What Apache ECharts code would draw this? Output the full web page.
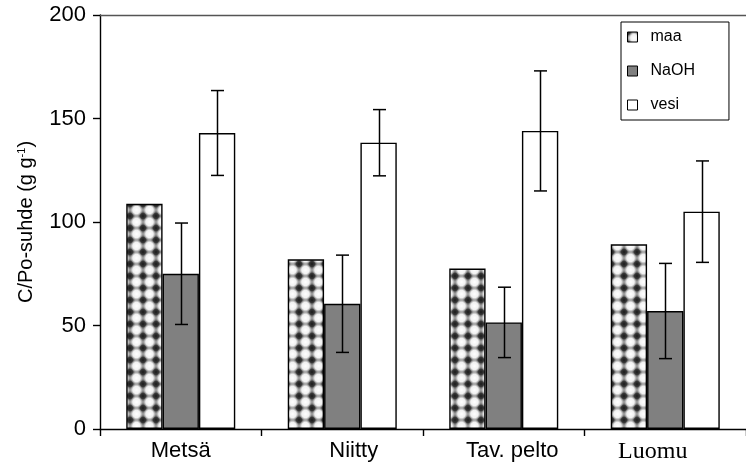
<!DOCTYPE html>
<html>
<head>
<meta charset="utf-8">
<script src="https://cdn.jsdelivr.net/npm/echarts@6/dist/echarts.min.js"></script>
<style>
  html, body { margin: 0; padding: 0; background: #fff; }
  #chart { width: 746px; height: 468px; }
</style>
</head>
<body>
<div id="chart"></div>
<script>
// Categories and series values (C/Po ratio, g g-1)
const categories = ['Metsä', 'Niitty', 'Tav. pelto', 'Luomu'];
const seriesNames = ['maa', 'NaOH', 'vesi'];
const maaValues  = [108.8, 82, 77.5, 89.2];
const naohValues = [75, 60.5, 51.5, 57];
const vesiValues = [143, 138.3, 144, 105];
// Error bar half-lengths (maa has none)
const naohErrors = [24.5, 23.5, 17, 23];
const vesiErrors = [20.5, 16, 29, 24.5];
const yTicks = [0, 50, 100, 150, 200];

// Blurred dot texture for the "maa" bars
function makeDotPattern() {
  const w = 13, h = 12;
  const c = document.createElement('canvas');
  c.width = w; c.height = h;
  const ctx = c.getContext('2d');
  ctx.fillStyle = '#9a9a9a';
  ctx.fillRect(0, 0, w, h);
  const corners = [[0, 0], [w, 0], [0, h], [w, h]];
  corners.forEach(([x, y]) => {
    const g = ctx.createRadialGradient(x, y, 0, x, y, 6);
    g.addColorStop(0, 'rgba(25,25,25,1)');
    g.addColorStop(0.45, 'rgba(45,45,45,0.9)');
    g.addColorStop(1, 'rgba(150,150,150,0)');
    ctx.fillStyle = g;
    ctx.fillRect(0, 0, w, h);
  });
  const gw = ctx.createRadialGradient(w / 2, h / 2, 0, w / 2, h / 2, 6.2);
  gw.addColorStop(0, 'rgba(255,255,255,1)');
  gw.addColorStop(0.6, 'rgba(250,250,250,0.9)');
  gw.addColorStop(1, 'rgba(210,210,210,0)');
  ctx.fillStyle = gw;
  ctx.fillRect(0, 0, w, h);
  return c;
}
const dotPattern = { image: makeDotPattern(), repeat: 'repeat' };

const barBorder = { borderColor: '#000', borderWidth: 1.4 };
const catGapRatio = 0.325;

// Error bars drawn on top of the NaOH (slot 1) and vesi (slot 2) bars
function errorSeries(values, errors, slot) {
  return {
    type: 'custom',
    z: 10,
    silent: true,
    data: values.map((v, i) => [i, v - errors[i], v + errors[i]]),
    renderItem: function (params, api) {
      const band = api.size([1, 0])[0];
      const barW = band * (1 - catGapRatio) / 3;
      const low = api.coord([api.value(0), api.value(1)]);
      const high = api.coord([api.value(0), api.value(2)]);
      const x = Math.round(low[0] + (slot - 1) * barW) + 0.5;
      const half = 6.5;
      const style = { stroke: '#000', lineWidth: 1.5 };
      return {
        type: 'group',
        children: [
          { type: 'line', shape: { x1: x, y1: high[1], x2: x, y2: low[1] }, style: style },
          { type: 'line', shape: { x1: x - half, y1: high[1], x2: x + half, y2: high[1] }, style: style },
          { type: 'line', shape: { x1: x - half, y1: low[1], x2: x + half, y2: low[1] }, style: style }
        ]
      };
    }
  };
}

const chart = echarts.init(document.getElementById('chart'), null, { renderer: 'canvas' });
chart.setOption({
  animation: false,
  backgroundColor: '#fff',
  textStyle: { fontFamily: 'Liberation Sans', color: '#000' },
  grid: { left: 100, right: -6, top: 15, bottom: 39, containLabel: false },
  legend: {
    orient: 'vertical',
    left: 621,
    top: 22,
    data: seriesNames.map(n => ({ name: n, icon: 'rect', itemStyle: { borderWidth: 1 } })),
    itemWidth: 10,
    itemHeight: 10,
    itemGap: 18,
    padding: [7, 34, 7, 6],
    borderColor: '#000',
    borderWidth: 1,
    backgroundColor: '#fff',
    textStyle: { fontSize: 16, color: '#000', fontFamily: 'Liberation Sans', padding: [0, 0, 0, 8] },
    selectedMode: false
  },
  xAxis: [
    {
      type: 'category',
      data: categories,
      boundaryGap: true,
      axisLine: { lineStyle: { color: '#000', width: 1.4 } },
      axisTick: { show: true, length: 7, inside: false, lineStyle: { color: '#000', width: 1.4 } },
      axisLabel: {
        margin: 11,
        fontSize: 22,
        color: '#000',
        fontFamily: 'Liberation Sans',
        formatter: function (v) {
          if (v === 'Niitty') return '{n|' + v + '}';
          if (v === 'Tav. pelto') return '{t|' + v + '}';
          if (v === 'Luomu') return '{l|' + v + '}';
          return v;
        },
        rich: {
          n: { fontSize: 22, fontFamily: 'Liberation Sans', padding: [0, 0, 0, 23] },
          t: { fontSize: 22, fontFamily: 'Liberation Sans', padding: [0, 0, 0, 17] },
          l: { fontSize: 24, fontFamily: 'Liberation Serif', padding: [0, 25, 0, 0] }
        }
      }
    },
    {
      type: 'category',
      position: 'top',
      data: categories,
      axisLine: { show: true, lineStyle: { color: '#555', width: 1.4 } },
      axisTick: { show: false },
      axisLabel: { show: false }
    }
  ],
  yAxis: {
    type: 'value',
    min: yTicks[0],
    max: yTicks[yTicks.length - 1],
    interval: 50,
    name: '{t|C/Po-suhde (g g}{s|-1}{t|)}',
    nameLocation: 'middle',
    nameGap: 64,
    nameRotate: 90,
    nameTextStyle: {
      rich: {
        t: { fontSize: 20, fontFamily: 'Liberation Sans', color: '#000' },
        s: { fontSize: 11, fontFamily: 'Liberation Sans', color: '#000', verticalAlign: 'top', padding: [0, 0, 9, 0] }
      }
    },
    splitLine: { show: false },
    axisLine: { show: true, lineStyle: { color: '#000', width: 1.4 } },
    axisTick: { show: true, length: 7, inside: false, lineStyle: { color: '#000', width: 1.4 } },
    axisLabel: { fontSize: 22, color: '#000', margin: 14, fontFamily: 'Liberation Sans' }
  },
  series: [
    {
      name: 'maa', type: 'bar', data: maaValues,
      barGap: '0%', barCategoryGap: (catGapRatio * 100) + '%',
      itemStyle: Object.assign({ color: dotPattern }, barBorder)
    },
    {
      name: 'NaOH', type: 'bar', data: naohValues,
      barGap: '0%', barCategoryGap: (catGapRatio * 100) + '%',
      itemStyle: Object.assign({ color: '#808080' }, barBorder)
    },
    {
      name: 'vesi', type: 'bar', data: vesiValues,
      barGap: '0%', barCategoryGap: (catGapRatio * 100) + '%',
      itemStyle: Object.assign({ color: '#fff' }, barBorder)
    },
    errorSeries(naohValues, naohErrors, 1),
    errorSeries(vesiValues, vesiErrors, 2)
  ]
});
</script>
</body>
</html>
